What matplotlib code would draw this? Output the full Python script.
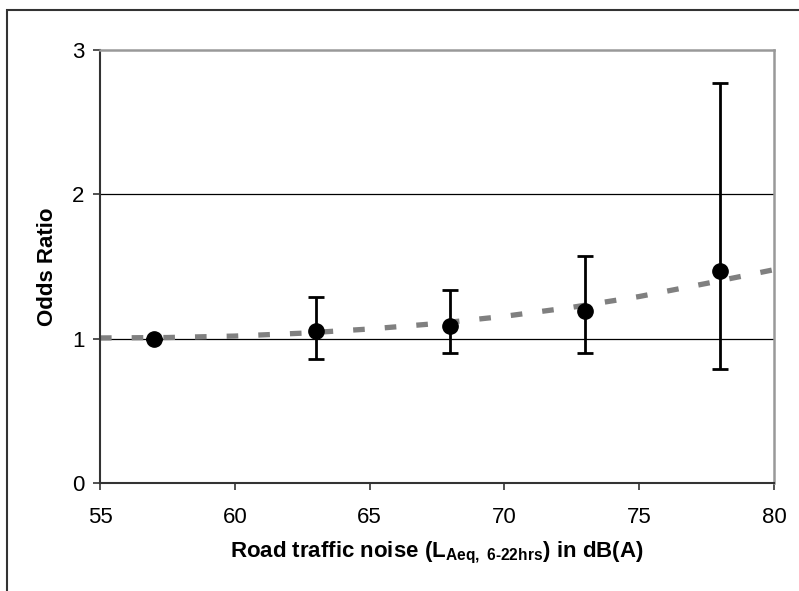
import matplotlib
matplotlib.use("Agg")
import matplotlib.pyplot as plt
from matplotlib.patches import Rectangle

# noise band midpoints and odds ratios with 95% CI
noise_db = [57, 63, 68, 73, 78]
odds_ratio = [1.00, 1.05, 1.09, 1.19, 1.47]
ci_low = [1.00, 0.86, 0.90, 0.90, 0.79]
ci_high = [1.00, 1.29, 1.34, 1.57, 2.77]

# trendline read along the x range
trend_x = [55, 57.5, 60, 62.5, 65, 67.5, 70, 72.5, 75, 77.5, 80]
trend_y = [1.005, 1.008, 1.018, 1.038, 1.067, 1.105, 1.155, 1.217, 1.292, 1.383, 1.478]

x_ticks = [55, 60, 65, 70, 75, 80]
y_ticks = [0, 1, 2, 3]

plt.rcParams['font.family'] = ['Liberation Sans', 'DejaVu Sans']
plt.rcParams['mathtext.fontset'] = 'custom'
plt.rcParams['mathtext.rm'] = 'Liberation Sans:bold'
plt.rcParams['mathtext.it'] = 'Liberation Sans:bold'
plt.rcParams['mathtext.bf'] = 'Liberation Sans:bold'

W, H = 799, 591
fig = plt.figure(figsize=(W / 100, H / 100), dpi=100)
ax = fig.add_axes([100 / W, 1 - 483 / H, 674 / W, 433 / H])

# outer chart frame (runs off the right/bottom edge)
fig.patches.append(Rectangle((7 / W, -0.1), 1.2, 1.1 - 10 / H,
                             transform=fig.transFigure, fill=False,
                             edgecolor='#333333', linewidth=1.5))

for yv in [1, 2]:
    ax.axhline(yv, color='black', linewidth=0.9, zorder=1)

ax.plot(trend_x, trend_y, color='#808080', linewidth=3.8,
        dashes=(2.2, 3.8), dash_capstyle='butt', zorder=2)

yerr = [[o - l for o, l in zip(odds_ratio, ci_low)],
        [h - o for o, h in zip(odds_ratio, ci_high)]]
ax.errorbar(noise_db, odds_ratio, yerr=yerr, fmt='o', color='black',
            markersize=11, elinewidth=2.0, capsize=5.5, capthick=2.0,
            zorder=3)

ax.set_xlim(55, 80)
ax.set_ylim(0, 3)
ax.set_xticks(x_ticks)
ax.set_yticks(y_ticks)
ax.tick_params(direction='out', length=5, width=1.2, color='#333333',
               labelsize=16)
ax.tick_params(axis='y', pad=6)
ax.tick_params(axis='x', pad=12.5)

for side in ['left', 'bottom']:
    ax.spines[side].set_color('#333333')
    ax.spines[side].set_linewidth(1.5)
for side in ['top', 'right']:
    ax.spines[side].set_color('#999999')
    ax.spines[side].set_linewidth(1.8)

ax.set_ylabel('Odds Ratio', fontsize=16, fontweight='bold', labelpad=10)
ax.set_xlabel(r'Road traffic noise (L$_{\mathrm{Aeq,\ 6\text{-}22hrs}}$) in dB(A)',
              fontsize=16, fontweight='bold', labelpad=8)

fig.savefig('out.png', dpi=100)
